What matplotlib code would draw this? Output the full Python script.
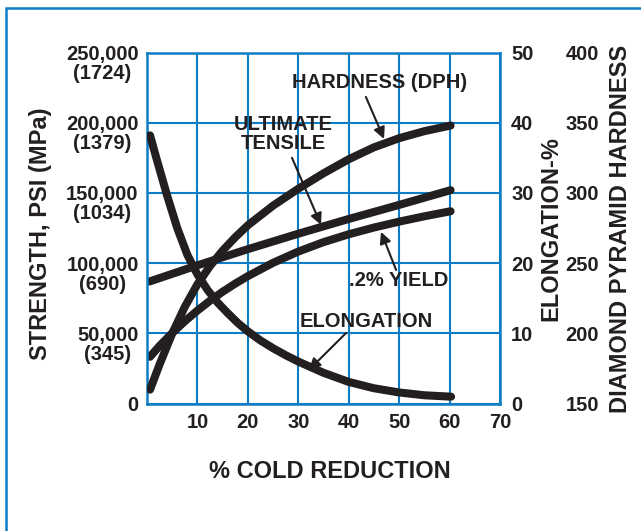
import matplotlib
matplotlib.use('Agg')
import matplotlib.pyplot as plt
from matplotlib.patches import Rectangle
from matplotlib.transforms import ScaledTranslation

plt.rcParams['font.family'] = ['Liberation Sans', 'DejaVu Sans']
plt.rcParams['font.weight'] = 'bold'

# ---------------- data ----------------
cold_ticks = [10, 20, 30, 40, 50, 60, 70]
strength_ticks = [0, 50000, 100000, 150000, 200000, 250000]
strength_labels = ['0', '50,000\n(345)', '100,000\n(690)', '150,000\n(1034)',
                   '200,000\n(1379)', '250,000\n(1724)']
elong_ticks = [0, 10, 20, 30, 40, 50]
dph_ticks = [150, 200, 250, 300, 350, 400]

tensile_x = [0.5, 10, 20, 30, 40, 50, 60.2]
tensile_psi = [87000, 98500, 110000, 121000, 131500, 141500, 152000]

yield_x = [0.6, 2.5, 5, 7.5, 10, 12.5, 15, 17.5, 20, 25, 30, 35, 40, 45, 50, 55, 60.2]
yield_psi = [33400, 41200, 50300, 58700, 66300, 73300, 79700, 85500, 90800,
             100300, 108300, 115000, 120600, 125400, 129600, 133400, 137000]

hard_x = [0.6, 2.5, 5, 7.5, 10, 12.5, 15, 17.5, 20, 25, 30, 35, 40, 45, 50, 55, 60.2]
hard_dph = [160, 178, 200, 219, 235, 248, 259, 268.5, 277, 291, 303, 314, 324,
            332.5, 339, 344, 348]

elong_x = [0.6, 2, 4, 6, 8, 10, 12, 14, 16, 18, 20, 22.5, 25, 27.5, 30, 35, 40,
           45, 50, 55, 60.3]
elong_pct = [38.2, 34.6, 29.6, 25.0, 21.2, 18.4, 16.2, 14.4, 12.9, 11.5, 10.3,
             9.0, 7.9, 6.9, 6.0, 4.4, 3.1, 2.2, 1.6, 1.2, 1.0]

# ---------------- style ----------------
BLUE = '#0f7dc5'
INK = '#231f20'
LW = 5.8

fig = plt.figure(figsize=(6.41, 5.31), dpi=100)
ax = fig.add_axes([147/641, 1-403.7/531, 353/641, 351.2/531])

ax.set_xlim(0, 70)
ax.set_ylim(0, 250000)
ax.set_xticks(cold_ticks)
ax.set_xticklabels([str(t) for t in cold_ticks])
ax.set_yticks(strength_ticks)
ax.set_yticklabels(strength_labels)
ax.grid(True, color=BLUE, lw=1.5)
ax.set_axisbelow(True)
for s in ax.spines.values():
    s.set_color(BLUE)
    s.set_linewidth(1.8)
ax.tick_params(axis='both', length=0, labelsize=14.5, labelcolor=INK)
ax.tick_params(axis='x', pad=7)
ax.tick_params(axis='y', pad=6)
shift = ScaledTranslation(0, -6.8/72, fig.dpi_scale_trans)
for lab in ax.get_yticklabels():
    lab.set_va('center_baseline')
    lab.set_multialignment('center')
    lab.set_linespacing(1.0)
    if '\n' in lab.get_text():
        lab.set_transform(lab.get_transform() + shift)

ax.set_xlabel('% COLD REDUCTION', fontsize=17, color=INK, fontweight='bold')
ax.xaxis.set_label_coords(0.518, -0.16)
ax.set_ylabel('STRENGTH, PSI (MPa)', fontsize=17, color=INK, fontweight='bold')
ax.yaxis.set_label_coords(-0.268, 0.485)

cap = dict(solid_capstyle='round', solid_joinstyle='round', color=INK, lw=LW)
ax.plot(tensile_x, tensile_psi, **cap)
ax.plot(yield_x, yield_psi, **cap)

# elongation axis
ax2 = ax.twinx()
ax2.set_ylim(0, 50)
ax2.set_yticks(elong_ticks)
ax2.set_yticklabels([str(t) for t in elong_ticks])
ax2.tick_params(axis='y', length=0, labelsize=14.5, labelcolor=INK, pad=8)
for s in ax2.spines.values():
    s.set_visible(False)
ax2.set_ylabel('ELONGATION-%', fontsize=17, color=INK, fontweight='bold')
ax2.yaxis.set_label_coords(1.112, 0.498)
ax2.plot(elong_x, elong_pct, **cap)

# hardness axis
ax3 = ax.twinx()
ax3.set_ylim(150, 400)
ax3.set_yticks(dph_ticks)
ax3.set_yticklabels([str(t) for t in dph_ticks])
ax3.tick_params(axis='y', length=0, labelsize=14.5, labelcolor=INK, pad=47)
for s in ax3.spines.values():
    s.set_visible(False)
ax3.set_ylabel('DIAMOND PYRAMID HARDNESS', fontsize=17, color=INK, fontweight='bold')
ax3.yaxis.set_label_coords(1.309, 0.498)
ax3.plot(hard_x, hard_dph, **cap)

# annotations (on strength axis coordinates)
arrow = dict(arrowstyle='-|>', color=INK, lw=1.5, mutation_scale=17,
             shrinkA=0, shrinkB=0)
tk = dict(fontsize=14.5, color=INK, fontweight='bold', ha='center', va='center')

ax.text(46.2, 228400, 'HARDNESS (DPH)', **tk)
ax.annotate('', xy=(47.0, 188500), xytext=(43.4, 218400), arrowprops=arrow)

ax.text(27.0, 192100, 'ULTIMATE\nTENSILE', linespacing=1.0, **tk)
ax.annotate('', xy=(34.5, 127300), xytext=(28.75, 175000), arrowprops=arrow)

ax.text(50.0, 87400, '.2% YIELD', **tk)
ax.annotate('', xy=(46.4, 122300), xytext=(49.4, 95200), arrowprops=arrow)

ax.text(43.4, 58800, 'ELONGATION', **tk)
ax.annotate('', xy=(32.1, 24000), xytext=(39.5, 50400), arrowprops=arrow)

# outer frame (only left/top visible)
fig.patches.append(Rectangle((6/641, -0.2), 1.2, 1.2 - 7.5/531,
                             transform=fig.transFigure, fill=False,
                             edgecolor=BLUE, lw=1.8))

fig.savefig('out.png', dpi=100)
